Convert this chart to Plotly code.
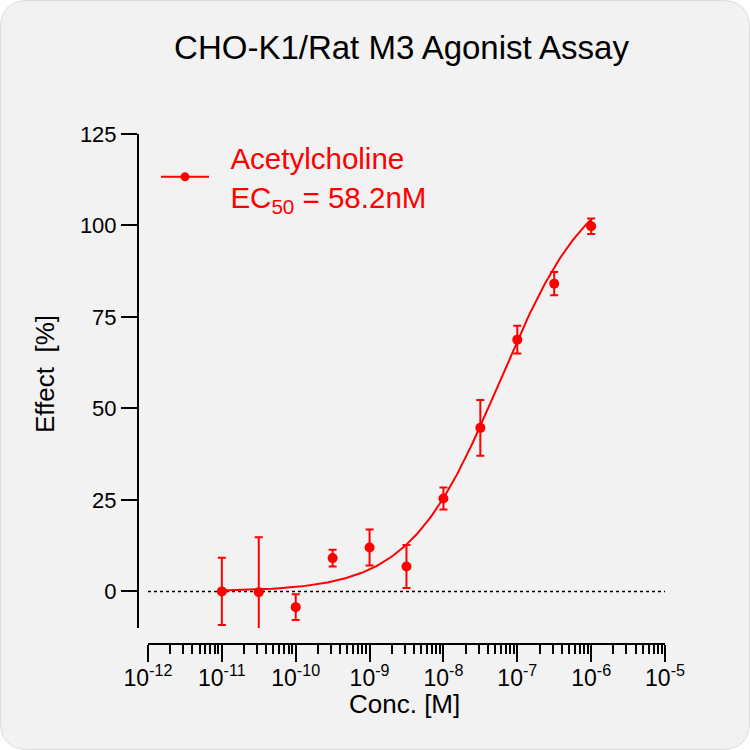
import numpy as np
import plotly.graph_objects as go

# Dose-response data
conc = [1e-11, 3.16e-11, 1e-10, 3.16e-10, 1e-9, 3.16e-9, 1e-8, 3.16e-8, 1e-7, 3.16e-7, 1e-6]
effect = [0.0, -0.2, -4.3, 9.1, 12.0, 6.8, 25.4, 44.7, 68.8, 84.1, 99.8]
err = [9.2, 15.0, 3.5, 2.3, 4.9, 5.9, 3.0, 7.6, 3.8, 3.2, 2.1]

# 4PL fit parameters (EC50 from the legend)
bottom, top, ec50, hill = 0.0, 115.0, 58.2e-9, 0.713

x_ticks = [1e-12, 1e-11, 1e-10, 1e-9, 1e-8, 1e-7, 1e-6, 1e-5]
x_ticktext = ["10<sup>-12</sup>", "10<sup>-11</sup>", "10<sup>-10</sup>", "10<sup>-9</sup>",
              "10<sup>-8</sup>", "10<sup>-7</sup>", "10<sup>-6</sup>", "10<sup>-5</sup>"]
y_ticks = [0, 25, 50, 75, 100, 125]

RED = "#ff0000"
FONT = "Liberation Sans, Arial, sans-serif"

fit_x = np.logspace(np.log10(conc[0]), np.log10(conc[-1]), 200)
fit_y = bottom + (top - bottom) / (1 + (ec50 / fit_x) ** hill)

fig = go.Figure()

# dotted baseline at 0
fig.add_trace(go.Scatter(x=[x_ticks[0], x_ticks[-1]], y=[0, 0], mode="lines",
                         line=dict(color="black", width=1.5, dash="dot"),
                         showlegend=False, hoverinfo="skip"))

fig.add_trace(go.Scatter(x=fit_x, y=fit_y, mode="lines", line=dict(color=RED, width=2),
                         showlegend=False))

fig.add_trace(go.Scatter(x=conc, y=effect, mode="markers",
                         marker=dict(color=RED, size=10),
                         error_y=dict(type="data", array=err, color=RED, thickness=2, width=4),
                         showlegend=False))

# legend entry
fig.add_trace(go.Scatter(x=[None], y=[None], mode="lines+markers",
                         line=dict(color=RED, width=2), marker=dict(color=RED, size=9),
                         name="\u00a0\u00a0Acetylcholine<br>\u00a0\u00a0EC<sub>50</sub> = 58.2nM"))

# pixel -> paper helpers for the rounded background
L, T, W, H = 138, 134, 527, 510
def px(x): return (x - L) / W
def py(y): return (T + H - y) / H

r = 28
x0, x1, y0, y1 = 0.5, 749.5, 0.5, 749.5
path = (f"M {px(x0 + r)},{py(y0)} L {px(x1 - r)},{py(y0)} "
        f"Q {px(x1)},{py(y0)} {px(x1)},{py(y0 + r)} "
        f"L {px(x1)},{py(y1 - r)} Q {px(x1)},{py(y1)} {px(x1 - r)},{py(y1)} "
        f"L {px(x0 + r)},{py(y1)} Q {px(x0)},{py(y1)} {px(x0)},{py(y1 - r)} "
        f"L {px(x0)},{py(y0 + r)} Q {px(x0)},{py(y0)} {px(x0 + r)},{py(y0)} Z")
fig.add_shape(type="path", path=path, xref="paper", yref="paper", layer="below",
              fillcolor="#f2f2f2", line=dict(color="#dadada", width=1))

# axis titles as annotations so they sit where the reference has them
fig.add_annotation(text="Conc. [M]", x=px(404), y=py(704), xref="paper", yref="paper",
                   showarrow=False, font=dict(size=26), xanchor="center", yanchor="middle")
fig.add_annotation(text="Effect\u00a0 [%]", x=px(45), y=py(374), xref="paper", yref="paper",
                   showarrow=False, font=dict(size=26), textangle=-90,
                   xanchor="center", yanchor="middle")

fig.update_layout(
    width=750, height=750,
    margin=dict(l=L, r=750 - L - W, t=T, b=750 - T - H),
    paper_bgcolor="white", plot_bgcolor="rgba(0,0,0,0)",
    font=dict(family=FONT, color="black"),
    title=dict(text="CHO-K1/Rat M3 Agonist Assay", font=dict(size=33),
               x=0.5, xref="paper", xanchor="center", y=1 - 47 / 750, yanchor="middle"),
    legend=dict(x=px(156), y=py(132), xanchor="left", yanchor="top", itemwidth=48,
                font=dict(size=29.5, color=RED), bgcolor="rgba(0,0,0,0)"),
    xaxis=dict(type="log", range=[-12, -5], domain=[px(148), 1], anchor="free", position=0,
               showgrid=False, zeroline=False, showline=True, linecolor="black", linewidth=2,
               tickmode="array", tickvals=x_ticks, ticktext=x_ticktext,
               ticks="outside", ticklen=17, tickwidth=2, tickcolor="black",
               tickfont=dict(size=23), ticklabelstandoff=-4,
               minor=dict(ticks="outside", ticklen=9, tickwidth=1.5, tickcolor="black", dtick="D1")),
    yaxis=dict(range=[-10, 125], domain=[py(628), 1], anchor="free", position=0,
               showgrid=False, zeroline=False, showline=True, linecolor="black", linewidth=2,
               tickmode="array", tickvals=y_ticks,
               ticks="outside", ticklen=16, tickwidth=2, tickcolor="black",
               tickfont=dict(size=22)),
)

fig.write_html("out.html", config={"displayModeBar": False},
               post_script="document.body.style.margin = '0px';")
